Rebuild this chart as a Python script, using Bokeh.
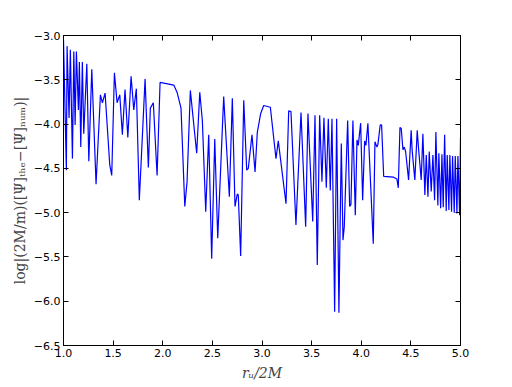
from bokeh.plotting import figure
from bokeh.models import LinearAxis, FixedTicker
from bokeh.embed import file_html
from bokeh.resources import INLINE

r_u = [1.000, 1.029, 1.036, 1.056, 1.069, 1.090, 1.104, 1.117, 1.130, 1.150,
       1.160, 1.174, 1.190, 1.204, 1.235, 1.255, 1.285, 1.328, 1.372, 1.392,
       1.419, 1.466, 1.486, 1.513, 1.540, 1.567, 1.593, 1.620, 1.648, 1.681,
       1.708, 1.734, 1.764, 1.822, 1.855, 1.875, 1.905, 1.943, 1.973, 2.111,
       2.144, 2.184, 2.222, 2.245, 2.278, 2.342, 2.373, 2.399, 2.433, 2.463,
       2.493, 2.524, 2.554, 2.614, 2.671, 2.701, 2.728, 2.751, 2.761, 2.785,
       2.816, 2.846, 2.862, 2.899, 2.930, 2.953, 2.987, 3.017, 3.084, 3.141,
       3.164, 3.242, 3.269, 3.292, 3.342, 3.393, 3.440, 3.463, 3.511, 3.534,
       3.557, 3.581, 3.604, 3.624, 3.648, 3.668, 3.688, 3.705, 3.732, 3.752,
       3.775, 3.799, 3.816, 3.829, 3.863, 3.883, 3.896, 3.916, 3.940, 3.957,
       3.970, 3.994, 4.014, 4.034, 4.047, 4.067, 4.121, 4.138, 4.158, 4.168,
       4.191, 4.205, 4.226, 4.326, 4.359, 4.373, 4.390, 4.403, 4.420, 4.433,
       4.447, 4.477, 4.503, 4.513, 4.540, 4.564, 4.577, 4.604, 4.621, 4.641,
       4.655, 4.672, 4.685, 4.705, 4.722, 4.739, 4.752, 4.772, 4.782, 4.800,
       4.813, 4.826, 4.840, 4.856, 4.866, 4.883, 4.893, 4.910, 4.920, 4.937,
       4.947, 4.964, 4.974, 4.991, 5.000]

log_err = [-3.05, -4.52, -3.12, -3.93, -3.16, -4.39, -3.18, -4.01, -3.18, -3.84,
           -3.30, -4.26, -3.30, -4.11, -3.32, -4.42, -3.38, -4.68, -3.67, -3.76,
           -3.65, -4.46, -4.58, -3.42, -3.76, -3.67, -4.12, -3.61, -4.15, -3.46,
           -3.84, -3.60, -4.86, -3.49, -4.49, -3.82, -3.76, -4.58, -3.53, -3.56,
           -3.64, -3.82, -4.93, -4.65, -3.62, -4.33, -3.64, -3.96, -4.99, -4.12,
           -5.52, -4.17, -5.29, -3.69, -4.82, -3.71, -4.93, -4.79, -4.80, -5.49,
           -3.73, -4.52, -4.50, -4.12, -4.54, -4.09, -3.88, -3.79, -3.81, -4.39,
           -4.19, -4.90, -3.85, -3.86, -5.14, -3.87, -5.16, -3.88, -5.10, -3.90,
           -5.59, -3.90, -4.65, -3.93, -4.72, -3.94, -4.75, -3.94, -6.12, -3.94,
           -6.13, -4.22, -5.31, -5.16, -3.96, -4.93, -4.91, -3.96, -5.03, -4.18,
           -4.24, -3.99, -4.86, -4.19, -4.24, -3.99, -5.35, -4.20, -4.26, -4.23,
           -4.01, -4.01, -4.59, -4.60, -4.62, -4.72, -4.04, -4.05, -4.29, -4.26,
           -4.31, -4.63, -4.07, -4.30, -4.63, -4.07, -4.27, -4.63, -4.11, -4.80,
           -4.35, -4.82, -4.31, -4.76, -4.35, -4.86, -4.09, -4.92, -4.33, -4.95,
           -4.34, -4.94, -4.12, -4.98, -4.35, -4.97, -4.35, -4.99, -4.36, -5.00,
           -4.36, -5.01, -4.36, -5.03, -4.15]

x_ticks = [1.0, 1.5, 2.0, 2.5, 3.0, 3.5, 4.0, 4.5, 5.0]
y_ticks = [-3.0, -3.5, -4.0, -4.5, -5.0, -5.5, -6.0, -6.5]
x_tick_labels = ["1.0", "1.5", "2.0", "2.5", "3.0", "3.5", "4.0", "4.5", "5.0"]
y_tick_labels = ["\u22123.0", "\u22123.5", "\u22124.0", "\u22124.5", "\u22125.0",
                 "\u22125.5", "\u22126.0", "\u22126.5"]

p = figure(width=503, height=384, output_backend="svg", toolbar_location=None,
           x_range=(1.0, 5.0), y_range=(-6.5, -3.0),
           min_border_left=63, min_border_right=43, min_border_top=35,
           min_border_bottom=39)
p.background_fill_color = "white"
p.border_fill_color = "white"
p.grid.visible = False
p.outline_line_color = "black"
p.outline_line_width = 1

p.line(r_u, log_err, line_color="#0000ff", line_width=1.2)

def style(ax):
    ax.major_tick_in = 5
    ax.major_tick_out = 0
    ax.minor_tick_in = 0
    ax.minor_tick_out = 0
    ax.axis_line_color = "black"
    ax.major_tick_line_color = "black"
    ax.major_label_text_font = "DejaVu Sans"
    ax.major_label_text_font_size = "11px"
    ax.major_label_text_color = "black"
    ax.major_label_standoff = 3

style(p.xaxis[0])
style(p.yaxis[0])
p.xaxis[0].ticker = FixedTicker(ticks=x_ticks)
p.yaxis[0].ticker = FixedTicker(ticks=y_ticks)
p.xaxis[0].major_label_overrides = {t: l for t, l in zip(x_ticks, x_tick_labels)}
p.yaxis[0].major_label_overrides = {t: l for t, l in zip(y_ticks, y_tick_labels)}

p.xaxis[0].axis_label = "r\u1d64/2M"
p.xaxis[0].axis_label_text_font = "DejaVu Serif"
p.xaxis[0].axis_label_text_font_style = "italic"
p.xaxis[0].axis_label_text_font_size = "14px"
p.xaxis[0].axis_label_standoff = 5

p.yaxis[0].axis_label = "log|(2M/m)([\u03a8]\u209c\u2095\u2091\u2212[\u03a8]\u2099\u1d64\u2098)|"
p.yaxis[0].axis_label_text_font = "DejaVu Serif"
p.yaxis[0].axis_label_text_font_style = "normal"
p.yaxis[0].axis_label_text_font_size = "14px"
p.yaxis[0].axis_label_standoff = 3

top = LinearAxis(ticker=FixedTicker(ticks=x_ticks))
style(top)
top.major_label_overrides = {t: "" for t in x_ticks}
right = LinearAxis(ticker=FixedTicker(ticks=y_ticks))
style(right)
right.major_label_overrides = {t: "" for t in y_ticks}
p.add_layout(top, "above")
p.add_layout(right, "right")

open("out.html", "w").write(file_html(p, INLINE))
